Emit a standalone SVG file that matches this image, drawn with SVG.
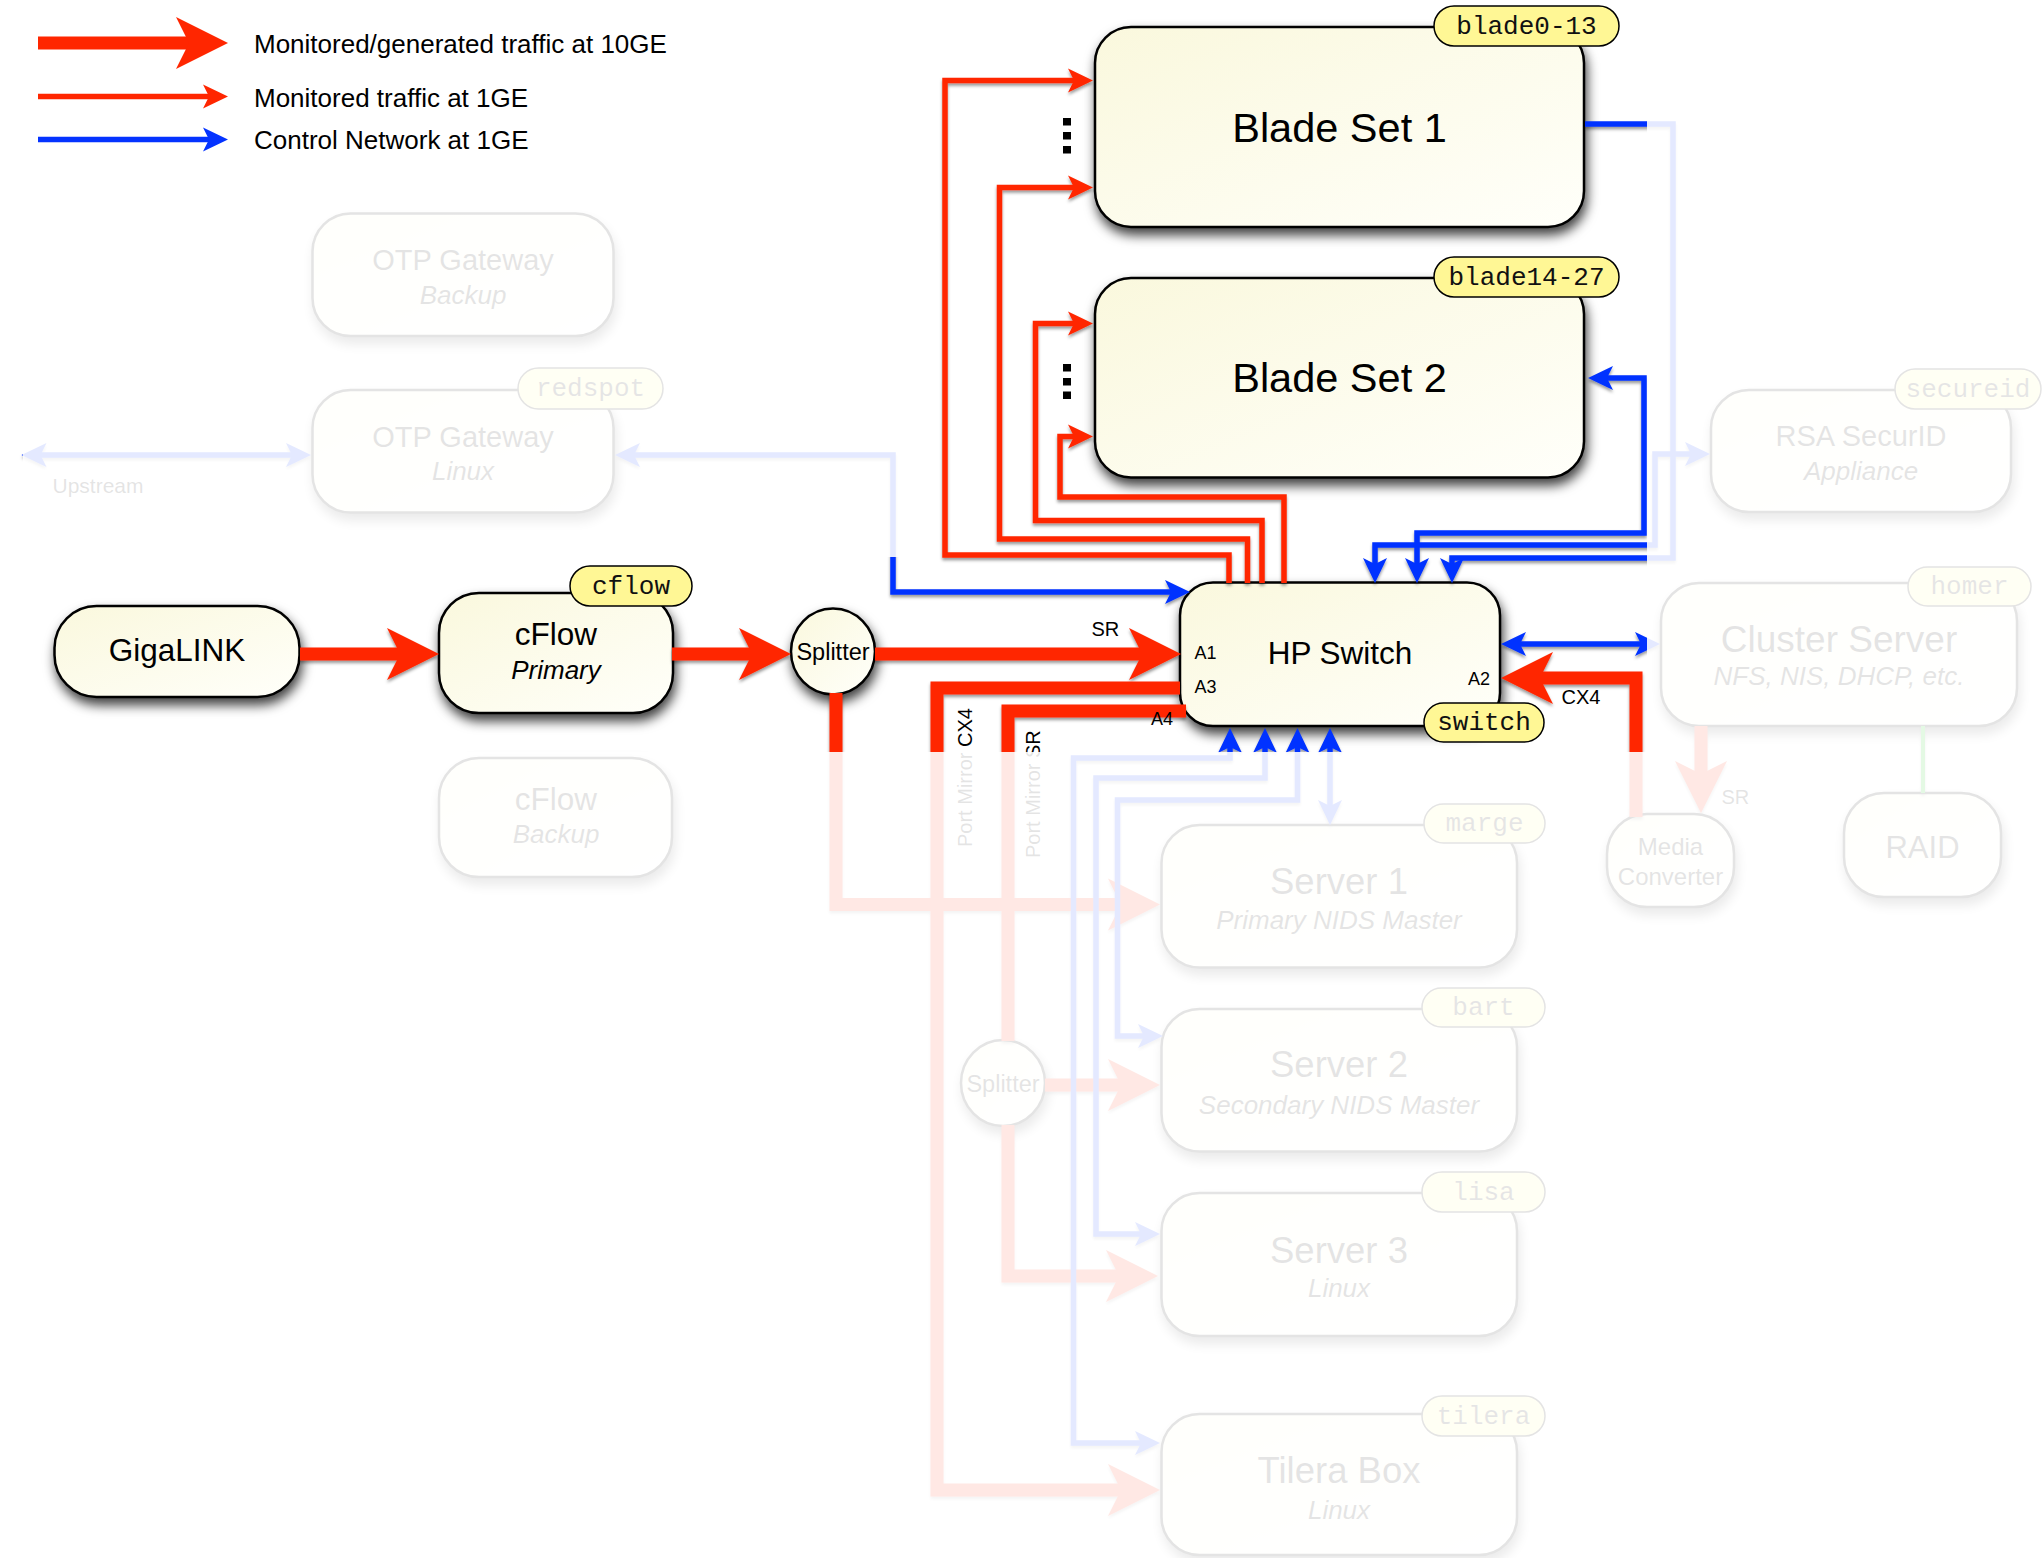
<svg xmlns="http://www.w3.org/2000/svg" width="2044" height="1558" viewBox="0 0 2044 1558">
<defs>
  <linearGradient id="boxFill" x1="0" y1="0" x2="1" y2="1">
    <stop offset="0" stop-color="#faf8dd"/>
    <stop offset="1" stop-color="#fffffa"/>
  </linearGradient>
  <filter id="nodeShadow" x="-20%" y="-20%" width="140%" height="170%">
    <feDropShadow dx="2" dy="7" stdDeviation="6" flood-color="#000" flood-opacity="0.75"/>
  </filter>
  <filter id="lineShadow" x="-5%" y="-5%" width="110%" height="110%">
    <feDropShadow dx="0" dy="2.5" stdDeviation="1.8" flood-color="#000" flood-opacity="0.4"/>
  </filter>
  <marker id="bigRed" markerUnits="userSpaceOnUse" viewBox="0 -27 53 54" markerWidth="53" markerHeight="54" refX="32" refY="0" orient="auto-start-reverse">
    <path d="M0,-26 L52,0 L0,26 L13,0 Z" fill="#ff2600"/>
  </marker>
  <marker id="smallRed" markerUnits="userSpaceOnUse" viewBox="0 -13 26 26" markerWidth="26" markerHeight="26" refX="10" refY="0" orient="auto-start-reverse">
    <path d="M0,-12 L25,0 L0,12 L6,0 Z" fill="#ff2600"/>
  </marker>
  <marker id="smallBlue" markerUnits="userSpaceOnUse" viewBox="0 -13 26 26" markerWidth="26" markerHeight="26" refX="10" refY="0" orient="auto-start-reverse">
    <path d="M0,-12 L25,0 L0,12 L6,0 Z" fill="#0433ff"/>
  </marker>
</defs>
<style>
  .box { fill: url(#boxFill); stroke: #000; stroke-width: 2.5; filter: url(#nodeShadow); }
  .tag rect { fill: #fff795; stroke: #000; stroke-width: 1.5; }
  .tag text { font-family: 'Liberation Mono', 'DejaVu Sans Mono', monospace; font-size: 26px; fill: #111; text-anchor: middle; }
  text { font-family: 'Liberation Sans', Arial, Helvetica, sans-serif; fill: #000; }
  .c { text-anchor: middle; }
  .sub { font-style: italic; font-size: 26px; }
  .port { font-size: 18px; }
  .lbl { font-size: 20px; }
  .ten { fill: none; stroke: #ff2600; stroke-width: 13; stroke-linejoin: miter; }
  .one { fill: none; stroke: #ff2600; stroke-width: 5.5; stroke-linejoin: miter; }
  .ctl { fill: none; stroke: #0433ff; stroke-width: 5.5; stroke-linejoin: miter; }
  #legend text { font-size: 26px; }
</style>
<rect width="2044" height="1558" fill="#fff"/>

<!-- legend -->
<g id="legend">
  <path class="ten" d="M38,43 H208" marker-end="url(#bigRed)"/>
  <path class="one" d="M38,96.5 H213" marker-end="url(#smallRed)"/>
  <path class="ctl" d="M38,139.5 H213" marker-end="url(#smallBlue)"/>
  <text x="254" y="53">Monitored/generated traffic at 10GE</text>
  <text x="254" y="106.5">Monitored traffic at 1GE</text>
  <text x="254" y="149">Control Network at 1GE</text>
</g>

<!-- nodes -->
<g id="otp-backup">
  <rect class="box" x="312.5" y="213.5" width="301" height="122.5" rx="38"/>
  <text class="c" x="463" y="270" font-size="29">OTP Gateway</text>
  <text class="c sub" x="463" y="304">Backup</text>
</g>
<g id="otp-linux">
  <rect class="box" x="312.5" y="390" width="301" height="122.5" rx="38"/>
  <text class="c" x="463" y="446.5" font-size="29">OTP Gateway</text>
  <text class="c sub" x="463" y="480">Linux</text>
  <g class="tag"><rect x="518" y="368" width="145" height="41" rx="20.5"/><text x="590.5" y="396">redspot</text></g>
</g>
<g id="gigalink">
  <rect class="box" x="54.5" y="606" width="245" height="91" rx="42"/>
  <text class="c" x="177" y="660.5" font-size="31.5">GigaLINK</text>
</g>
<g id="cflow-primary">
  <rect class="box" x="439" y="593" width="234" height="120" rx="40"/>
  <text class="c" x="556" y="645" font-size="31.5">cFlow</text>
  <text class="c sub" x="556" y="679">Primary</text>
  <g class="tag"><rect x="570" y="566" width="122" height="40" rx="20"/><text x="631" y="593.5">cflow</text></g>
</g>
<g id="cflow-backup">
  <rect class="box" x="439" y="758" width="233" height="119" rx="40"/>
  <text class="c" x="556" y="810" font-size="31.5">cFlow</text>
  <text class="c sub" x="556" y="843">Backup</text>
</g>
<g id="splitter-1">
  <ellipse class="box" cx="833" cy="651.5" rx="42" ry="43"/>
  <text class="c" x="833" y="660" font-size="23.5">Splitter</text>
</g>
<g id="blade-set-1">
  <rect class="box" x="1095" y="27" width="489" height="200" rx="36"/>
  <text class="c" x="1339.5" y="141.5" font-size="41.5">Blade Set 1</text>
  <g class="tag"><rect x="1434" y="6" width="185" height="40" rx="20"/><text x="1526.5" y="33.5">blade0-13</text></g>
  <rect x="1063" y="118" width="8" height="7.5"/>
  <rect x="1063" y="132" width="8" height="7.5"/>
  <rect x="1063" y="146" width="8" height="7.5"/>
</g>
<g id="blade-set-2">
  <rect class="box" x="1095" y="278" width="489" height="199.5" rx="36"/>
  <text class="c" x="1339.5" y="391.5" font-size="41.5">Blade Set 2</text>
  <g class="tag"><rect x="1434" y="257" width="185" height="40" rx="20"/><text x="1526.5" y="284.5">blade14-27</text></g>
  <rect x="1063" y="364" width="8" height="7.5"/>
  <rect x="1063" y="378" width="8" height="7.5"/>
  <rect x="1063" y="391.5" width="8" height="7.5"/>
</g>
<g id="hp-switch">
  <rect class="box" x="1180" y="582.5" width="320" height="143.5" rx="33"/>
  <text class="c" x="1340" y="664" font-size="31.5">HP Switch</text>
  <g class="tag"><rect x="1424" y="703" width="120" height="39" rx="19.5"/><text x="1484" y="730">switch</text></g>
</g>
<g id="rsa-securid">
  <rect class="box" x="1711" y="390" width="300" height="122" rx="38"/>
  <text class="c" x="1861" y="446" font-size="29">RSA SecurID</text>
  <text class="c sub" x="1861" y="480">Appliance</text>
  <g class="tag"><rect x="1895" y="369" width="146" height="40" rx="20"/><text x="1968" y="396.5">secureid</text></g>
</g>
<g id="cluster-server">
  <rect class="box" x="1661" y="583" width="356" height="143" rx="38"/>
  <text class="c" x="1839" y="652" font-size="37">Cluster Server</text>
  <text class="c sub" x="1839" y="685" font-size="25">NFS, NIS, DHCP, etc.</text>
  <g class="tag"><rect x="1908" y="567" width="123" height="39" rx="19.5"/><text x="1969.5" y="594">homer</text></g>
</g>
<g id="media-converter">
  <rect class="box" x="1607" y="814" width="127" height="93" rx="40"/>
  <text class="c" x="1670.5" y="855" font-size="24">Media</text>
  <text class="c" x="1670.5" y="884.5" font-size="24">Converter</text>
</g>
<g id="raid">
  <rect class="box" x="1844" y="793" width="157" height="104" rx="40"/>
  <text class="c" x="1922.5" y="857.5" font-size="31">RAID</text>
</g>
<g id="server-1">
  <rect class="box" x="1161.5" y="825" width="355.5" height="142.5" rx="38"/>
  <text class="c" x="1339" y="893.5" font-size="36.5">Server 1</text>
  <text class="c sub" x="1339" y="929">Primary NIDS Master</text>
  <g class="tag"><rect x="1424" y="804" width="121" height="39" rx="19.5"/><text x="1484.5" y="831">marge</text></g>
</g>
<g id="server-2">
  <rect class="box" x="1161.5" y="1009" width="355.5" height="142.5" rx="38"/>
  <text class="c" x="1339" y="1077" font-size="36.5">Server 2</text>
  <text class="c sub" x="1339" y="1114">Secondary NIDS Master</text>
  <g class="tag"><rect x="1422" y="988" width="123" height="39" rx="19.5"/><text x="1483.5" y="1015">bart</text></g>
</g>
<g id="server-3">
  <rect class="box" x="1161.5" y="1193" width="355.5" height="143" rx="38"/>
  <text class="c" x="1339" y="1263" font-size="36.5">Server 3</text>
  <text class="c sub" x="1339" y="1297">Linux</text>
  <g class="tag"><rect x="1422" y="1172" width="123" height="40" rx="20"/><text x="1483.5" y="1199.5">lisa</text></g>
</g>
<g id="tilera-box">
  <rect class="box" x="1161.5" y="1414" width="355.5" height="141" rx="38"/>
  <text class="c" x="1339" y="1483" font-size="36.5">Tilera Box</text>
  <text class="c sub" x="1339" y="1519">Linux</text>
  <g class="tag"><rect x="1422" y="1396" width="123" height="40" rx="20"/><text x="1483.5" y="1423.5">tilera</text></g>
</g>
<g id="splitter-2">
  <ellipse class="box" cx="1003" cy="1083" rx="42" ry="43"/>
  <text class="c" x="1003" y="1091.5" font-size="23.5">Splitter</text>
</g>

<!-- connectors -->
<g id="connectors" filter="url(#lineShadow)">
  <!-- 10GE links -->
  <path class="ten" d="M300,654 H419" marker-end="url(#bigRed)"/>
  <path class="ten" d="M672,654 H771" marker-end="url(#bigRed)"/>
  <path class="ten" d="M875,654 H1161" marker-end="url(#bigRed)"/>
  <path class="ten" d="M1636,817 V678 H1521" marker-end="url(#bigRed)"/>
  <path class="ten" d="M1180,688 H937 V1490 H1140" marker-end="url(#bigRed)"/>
  <path class="ten" d="M1186,711 H1008 V1041"/>
  <path class="ten" d="M1045,1085 H1140" marker-end="url(#bigRed)"/>
  <path class="ten" d="M1008,1125 V1276 H1138" marker-end="url(#bigRed)"/>
  <path class="ten" d="M836,693 V904.5 H1140" marker-end="url(#bigRed)"/>
  <path class="ten" d="M1701,726 V793" marker-end="url(#bigRed)"/>
  <!-- 1GE monitored links to the blade sets -->
  <path class="one" d="M1229,583 V555 H945 V80.5 H1078" marker-end="url(#smallRed)"/>
  <path class="one" d="M1247.5,583 V539 H999.5 V187.5 H1078" marker-end="url(#smallRed)"/>
  <path class="one" d="M1262,583 V520.5 H1035.5 V323.5 H1078" marker-end="url(#smallRed)"/>
  <path class="one" d="M1284,583 V497 H1060 V436.5 H1078" marker-end="url(#smallRed)"/>
  <!-- control network -->
  <path class="ctl" d="M36.5,455 H296" marker-start="url(#smallBlue)" marker-end="url(#smallBlue)"/>
  <path class="ctl" d="M630,455 H893 V592 H1175" marker-start="url(#smallBlue)" marker-end="url(#smallBlue)"/>
  <path class="ctl" d="M1585,124 H1673 V558 H1452 V568" marker-end="url(#smallBlue)"/>
  <path class="ctl" d="M1603,378 H1644 V533 H1417 V568" marker-start="url(#smallBlue)" marker-end="url(#smallBlue)"/>
  <path class="ctl" d="M1375,568 V545 H1655 V454 H1695" marker-start="url(#smallBlue)" marker-end="url(#smallBlue)"/>
  <path class="ctl" d="M1516,644 H1645" marker-start="url(#smallBlue)" marker-end="url(#smallBlue)"/>
  <path class="ctl" d="M1230,743 V758 H1073.5 V1443 H1145" marker-start="url(#smallBlue)" marker-end="url(#smallBlue)"/>
  <path class="ctl" d="M1265,743 V778 H1096 V1234 H1145" marker-start="url(#smallBlue)" marker-end="url(#smallBlue)"/>
  <path class="ctl" d="M1297.5,743 V800 H1117.5 V1036 H1148" marker-start="url(#smallBlue)" marker-end="url(#smallBlue)"/>
  <path class="ctl" d="M1330,743 V810" marker-start="url(#smallBlue)" marker-end="url(#smallBlue)"/>
  <!-- storage link -->
  <path d="M1923,726 V793" fill="none" stroke="#00c000" stroke-width="4"/>
</g>

<!-- link and port labels -->
<g id="labels">
  <text class="port" x="1194.5" y="659">A1</text>
  <text class="port" x="1194.5" y="693">A3</text>
  <text class="port" x="1468" y="685">A2</text>
  <text class="port" x="1151" y="725">A4</text>
  <text class="lbl" x="1091.5" y="636">SR</text>
  <text class="lbl" x="1561.5" y="704">CX4</text>
  <text class="lbl" x="1721.5" y="804">SR</text>
  <text class="lbl" transform="translate(972,847) rotate(-90)">Port Mirror CX4</text>
  <text class="lbl" transform="translate(1040,858) rotate(-90)">Port Mirror SR</text>
  <text x="52.5" y="493" font-size="21">Upstream</text>
</g>

<!-- white wash over the parts of the network not in focus -->
<g id="wash" fill="#fff" fill-opacity="0.895">
  <rect x="23" y="160" width="892" height="397"/>
  <rect x="1647" y="0" width="397" height="752"/>
  <rect x="0" y="752" width="2044" height="806"/>
</g>
</svg>
